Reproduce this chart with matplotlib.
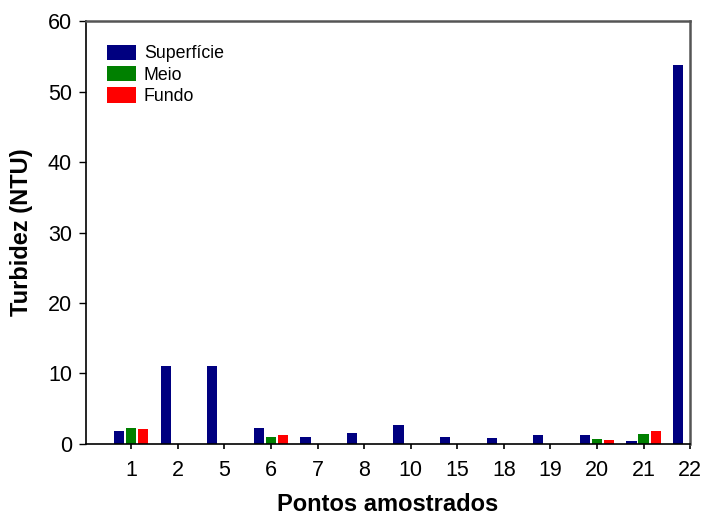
import numpy as np
import matplotlib
matplotlib.use('Agg')
import matplotlib.pyplot as plt

plt.rcParams['font.family'] = ['Liberation Sans', 'DejaVu Sans']

# pontos amostrados
pontos = ['1', '2', '5', '6', '7', '8', '10', '15', '18', '19', '20', '21', '22']
# turbidez (NTU) - superficie, meio, fundo (0 = sem amostra)
superficie = [1.9, 11.0, 11.1, 2.2, 1.05, 1.6, 2.75, 1.05, 0.9, 1.3, 1.3, 0.45, 53.8]
meio = [2.3, 0, 0, 1.05, 0, 0, 0, 0, 0, 0, 0.75, 1.45, 0]
fundo = [2.05, 0, 0, 1.3, 0, 0, 0, 0, 0, 0, 0.6, 1.9, 0]

series_names = ['Superfície', 'Meio', 'Fundo']
series_colors = ['#000080', '#008000', '#ff0000']

fig = plt.figure(figsize=(7.05, 5.15), dpi=100)
ax = fig.add_axes([0.122, 0.138, 0.857, 0.821])

x = np.arange(len(pontos))
w = 0.22
off = 0.26
for i, (vals, name, col) in enumerate(zip([superficie, meio, fundo], series_names, series_colors)):
    xs = x + (i - 1) * off
    vals = np.array(vals, dtype=float)
    mask = vals > 0
    ax.bar(xs[mask], vals[mask], width=w, color=col, label=name, linewidth=0)

ax.set_xlim(-0.97, 12)
ax.set_ylim(0, 60)
ax.set_yticks(np.arange(0, 61, 10))
ax.set_xticks(x)
ax.set_xticklabels(pontos)

ax.tick_params(axis='y', direction='out', length=5, width=1, labelsize=15.5, pad=5)
ax.tick_params(axis='x', direction='out', length=3.5, width=1.2, labelsize=15.5, pad=8)

for s in ['left', 'bottom']:
    ax.spines[s].set_color('black')
    ax.spines[s].set_linewidth(1.2)
for s in ['top', 'right']:
    ax.spines[s].set_color('#555555')
    ax.spines[s].set_linewidth(1.8)

ax.set_xlabel('Pontos amostrados', fontsize=17, fontweight='bold')
ax.set_ylabel('Turbidez (NTU)', fontsize=17, fontweight='bold')
ax.xaxis.set_label_coords(0.5, -0.117)
ax.yaxis.set_label_coords(-0.088, 0.5)

ax.legend(loc='upper left', bbox_to_anchor=(0.023, 0.961), frameon=False,
          fontsize=12.8, handlelength=1.63, handleheight=0.95,
          handletextpad=0.45, labelspacing=0.2, borderaxespad=0)

fig.savefig('out.png', dpi=100)
